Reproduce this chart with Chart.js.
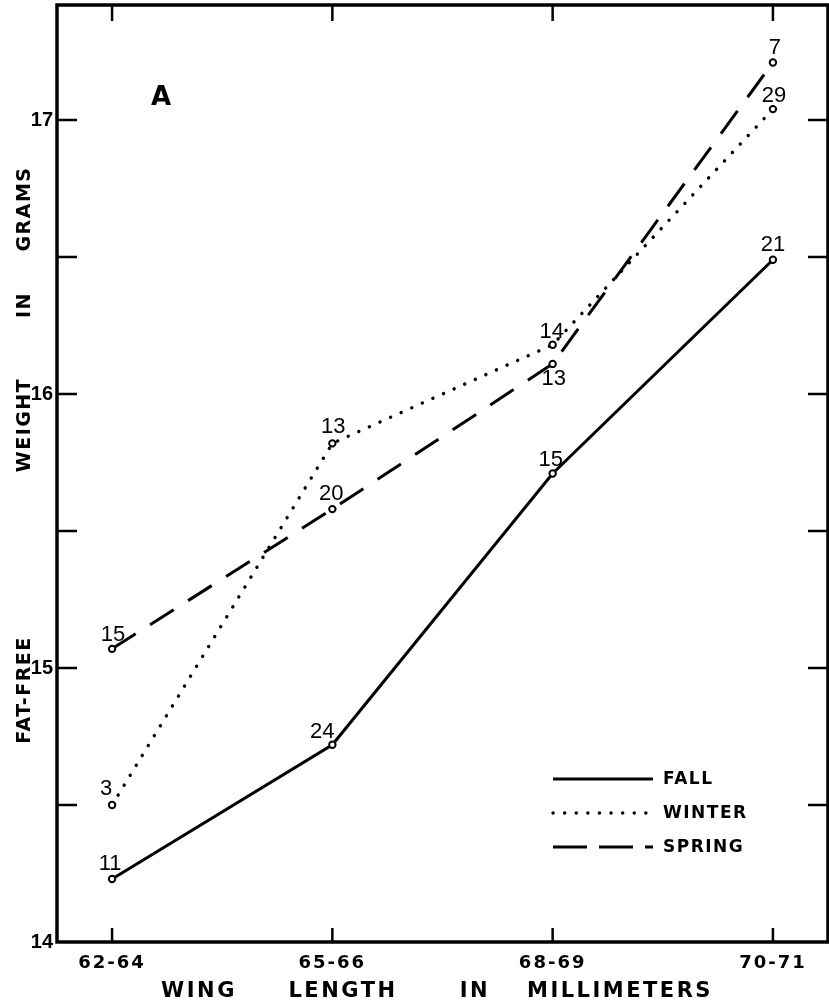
<!DOCTYPE html>
<html><head><meta charset="utf-8">
<script src="https://cdn.jsdelivr.net/npm/chart.js@4.4.1/dist/chart.umd.min.js"></script>
<style>html,body{margin:0;padding:0;background:#fff;overflow:hidden}#wrap{width:829px;height:1005px}</style>
</head><body><div id="wrap"><canvas id="c" width="829" height="1005"></canvas></div>
<script>
// ---- data ----
const categories = ['62-64', '65-66', '68-69', '70-71'];
const fallWeight   = [14.23, 14.72, 15.71, 16.49];
const winterWeight = [14.50, 15.82, 16.18, 17.04];
const springWeight = [15.07, 15.58, 16.11, 17.21];
const fallN   = [11, 24, 15, 21];
const winterN = [3, 13, 14, 29];
const springN = [15, 20, 13, 7];
const yTickValues = [14, 15, 16, 17];
const yMinorTickValues = [14.5, 15, 15.5, 16, 16.5, 17];
const seriesNames = ['FALL', 'WINTER', 'SPRING'];
const panelLetter = 'A';
const xTitleWords = ['WING', 'LENGTH', 'IN', 'MILLIMETERS'];
const yTitleWords = ['FAT-FREE', 'WEIGHT', 'IN', 'GRAMS'];

// ---- styles ----
const INK = '#000';
const BOLD = 'DejaVu Sans';
const toXY = arr => arr.map((v, i) => ({x: i, y: v}));

const datasets = [
  {label: seriesNames[0], data: toXY(fallWeight), counts: fallN,
   borderColor: INK, borderWidth: 3, borderDash: [],
   labelOffsets: [[-2,-15],[-10,-13],[-2,-14],[0,-15]]},
  {label: seriesNames[1], data: toXY(winterWeight), counts: winterN,
   borderColor: INK, borderWidth: 3.4, borderDash: [0.1, 11.5], borderCapStyle: 'round',
   labelOffsets: [[-6,-16],[1,-16],[-1,-13],[1,-13]]},
  {label: seriesNames[2], data: toXY(springWeight), counts: springN,
   borderColor: INK, borderWidth: 3, borderDash: [28, 17],
   labelOffsets: [[1,-14],[-1,-15],[1,15],[2,-15]]}
].map(d => Object.assign({
  pointRadius: 3.2, pointBorderWidth: 2, pointBackgroundColor: '#fff', pointBorderColor: INK,
  fill: false, tension: 0
}, d));

const legendPos = {x1: 553, x2: 653, textX: 663, ys: [779, 813, 847]};
const xTitlePos = {y: 992, xs: [199, 343, 475, 620]};
const yTitlePos = {x: 25, ys: [690, 425, 305, 209]};

function withSpacing(scale, spacing) {
  const base = Object.getPrototypeOf(scale).drawLabels;
  scale.drawLabels = function (area) {
    const c = this.ctx, prev = c.letterSpacing;
    c.letterSpacing = spacing;
    base.call(this, area);
    c.letterSpacing = prev;
  };
}

const decor = {
  id: 'decor',
  beforeDatasetsDraw(chart) {
    const {ctx, chartArea: a, scales} = chart;
    ctx.save();
    ctx.strokeStyle = INK; ctx.lineWidth = 3.5; ctx.lineCap = 'butt';
    ctx.strokeRect(a.left, a.top, a.right - a.left, a.bottom - a.top);
    ctx.lineWidth = 2.5;
    ctx.beginPath();
    yMinorTickValues.forEach(v => {
      const y = scales.y.getPixelForValue(v);
      ctx.moveTo(a.left, y); ctx.lineTo(a.left + 20, y);
      ctx.moveTo(a.right, y); ctx.lineTo(a.right - 20, y);
    });
    categories.forEach((c, i) => {
      const x = scales.x.getPixelForValue(i);
      ctx.moveTo(x, a.top); ctx.lineTo(x, a.top + 16);
      ctx.moveTo(x, a.bottom); ctx.lineTo(x, a.bottom - 14);
    });
    ctx.stroke();
    ctx.restore();
  },
  afterDatasetsDraw(chart) {
    const {ctx} = chart;
    ctx.save();
    ctx.fillStyle = INK;
    ctx.textAlign = 'center'; ctx.textBaseline = 'middle';
    // sample sizes
    ctx.letterSpacing = '0px';
    ctx.font = '22px "Liberation Sans Narrow", "Liberation Sans", sans-serif';
    chart.data.datasets.forEach((ds, di) => {
      const meta = chart.getDatasetMeta(di);
      meta.data.forEach((pt, i) => {
        const off = ds.labelOffsets[i];
        ctx.fillText(String(ds.counts[i]), pt.x + off[0], pt.y + off[1]);
      });
    });
    // panel letter
    ctx.font = 'bold 26px "' + BOLD + '"';
    ctx.fillText(panelLetter, 161, 98);
    // legend
    chart.data.datasets.forEach((ds, di) => {
      const y = legendPos.ys[di];
      ctx.save();
      ctx.strokeStyle = INK; ctx.lineWidth = ds.borderWidth;
      ctx.lineCap = ds.borderCapStyle || 'butt';
      ctx.setLineDash(di === 2 ? [34, 12] : ds.borderDash);
      ctx.beginPath(); ctx.moveTo(legendPos.x1, y); ctx.lineTo(legendPos.x2, y); ctx.stroke();
      ctx.restore();
      ctx.textAlign = 'left';
      ctx.letterSpacing = '1.5px';
      ctx.font = 'bold 17px "' + BOLD + '"';
      ctx.fillText(ds.label, legendPos.textX, y + 1);
    });
    // axis titles
    ctx.textAlign = 'center';
    ctx.letterSpacing = '2.5px';
    ctx.font = 'bold 21px "' + BOLD + '"';
    xTitleWords.forEach((w, i) => ctx.fillText(w, xTitlePos.xs[i], xTitlePos.y));
    ctx.letterSpacing = '1.5px';
    ctx.font = 'bold 19px "' + BOLD + '"';
    yTitleWords.forEach((w, i) => {
      ctx.save();
      ctx.translate(yTitlePos.x, yTitlePos.ys[i]);
      ctx.rotate(-Math.PI / 2);
      ctx.fillText(w, 0, 0);
      ctx.restore();
    });
    ctx.restore();
  }
};

new Chart(document.getElementById('c'), {
  type: 'line',
  data: {datasets},
  options: {
    responsive: false, animation: false, events: [],
    layout: {autoPadding: false, padding: {top: 5, right: 1, left: 0, bottom: 0}},
    plugins: {legend: {display: false}, tooltip: {enabled: false}},
    scales: {
      x: {
        type: 'linear', min: -0.25, max: 3.25,
        afterBuildTicks(s) { s.ticks = categories.map((c, i) => ({value: i})); },
        afterFit(s) { s.height = 63; s.paddingLeft = 0; s.paddingRight = 0; withSpacing(s, '2px'); },
        ticks: {callback: v => categories[v], color: INK, padding: 11, maxRotation: 0, autoSkip: false,
                font: {family: BOLD, weight: 'bold', size: 18}},
        grid: {display: false, drawTicks: false}, border: {display: false}
      },
      y: {
        type: 'linear', min: 14, max: 17.42,
        afterBuildTicks(s) { s.ticks = yTickValues.map(v => ({value: v})); },
        afterFit(s) { s.width = 57; s.paddingTop = 0; s.paddingBottom = 0; },
        ticks: {callback: v => String(v), color: INK, padding: 4,
                font: {family: 'Liberation Sans', weight: 'bold', size: 20}},
        grid: {display: false, drawTicks: false}, border: {display: false}
      }
    }
  },
  plugins: [decor]
});
</script></body></html>
